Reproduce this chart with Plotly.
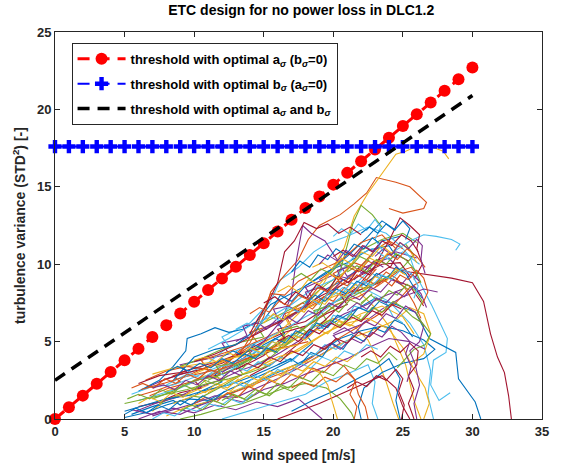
import plotly.graph_objects as go

# ---------------- threshold data ----------------
thr_x = [0, 1, 2, 3, 4, 5, 6, 7, 8, 9, 10, 11, 12, 13, 14, 15, 16, 17, 18, 19, 20,
         21, 22, 23, 24, 25, 26, 27, 28, 29, 30]
red_y = [0, 0.76, 1.51, 2.27, 3.03, 3.79, 4.54, 5.30, 6.06, 6.81, 7.57, 8.33, 9.08,
         9.84, 10.60, 11.36, 12.11, 12.87, 13.63, 14.38, 15.14, 15.90, 16.65, 17.41,
         18.17, 18.93, 19.68, 20.44, 21.20, 21.95, 22.71]
blue_y = [17.6, 17.6, 17.6, 17.6, 17.6, 17.6, 17.6, 17.6, 17.6, 17.6, 17.6, 17.6,
          17.6, 17.6, 17.6, 17.6, 17.6, 17.6, 17.6, 17.6, 17.6, 17.6, 17.6, 17.6,
          17.6, 17.6, 17.6, 17.6, 17.6, 17.6, 17.6]
black_x = [0, 30]
black_y = [2.5, 20.9]

x_ticks = [0, 5, 10, 15, 20, 25, 30, 35]
y_ticks = [0, 5, 10, 15, 20, 25]

# ---------------- simulation runs (wind speed, variance) ----------------
run01 = [(5.5,0.3),(7,0.8),(8.5,1.2),(9,0.9),(10.5,1.8),(12,2.4),(11.5,2.9),(13.5,3.6),(15,4.8),(16.5,5.5),(16,6.3),(18,7.2),(19.5,8.4),(21,9.1),(22.5,10.3),(23.5,11.5),(24.8,11.8)]
run02 = [(6,1.5),(7.5,1.9),(9,2.4),(8.5,2.8),(10,3.3),(11.5,3.1),(13,4.1),(14.5,5.0),(14,5.6),(16,6.2),(17.5,6.9),(19,7.6),(20.5,8.8),(20,9.4),(21.5,10.1),(23,9.6)]
run03 = [(7,0.5),(8,1.3),(9.5,1.6),(11,2.2),(10.5,2.7),(12.5,3.3),(14,3.9),(15.5,4.6),(17,5.8),(16.5,6.6),(18.5,7.3),(20,7.9),(21.5,8.5),(23,7.2),(24,6.0),(25.2,3.5),(25.8,1.2),(26.3,0)]
run04 = [(6.5,2.0),(8,2.6),(9.5,3.0),(9,3.5),(11,3.9),(12.5,4.2),(12,4.9),(14,5.3),(15.5,6.1),(17,6.6),(18.5,7.8),(18,8.5),(20,9.3),(21.5,9.0),(23,10.2),(24.5,10.8),(26,10.4)]
run05 = [(7.5,1.0),(9,1.6),(10.5,1.4),(12,2.1),(13.5,2.9),(13,3.5),(15,4.2),(16.5,4.7),(18,5.6),(19.5,6.4),(19,7.1),(21,7.9),(22.5,8.6),(24,9.2),(25.5,8.3)]
run06 = [(8,2.2),(9.5,2.9),(11,3.6),(12.5,4.7),(12,5.3),(14,6.2),(15.5,7.6),(16.2,9.0),(17.5,9.8),(18.6,10.8),(19.5,11.3),(21,11.8),(22.5,12.4),(23.8,12.0),(24.8,11.2),(25.5,10.5),(26,9.2),(27.1,7.3),(28.2,5.2),(28.1,4.3),(27.2,3.8),(27.0,2.2),(27.6,1.2),(28.4,1.7)]
run07 = [(6,0.8),(7.5,1.1),(9,1.7),(10.5,2.0),(10,2.5),(12,2.9),(13.5,3.4),(15,4.1),(16.5,5.2),(16,5.8),(18,6.3),(19.5,7.2),(21,8.1),(22.5,8.9),(24,9.8),(25.5,9.5),(27,9.3),(28.5,9.1),(30,8.8),(30.8,7.6),(31.3,5.5),(31.8,4.0),(32.3,3.0),(32.6,1.5),(32.8,0)]
run08 = [(5,0.1),(6.5,0.4),(8,0.9),(9.5,1.3),(11,1.2),(12.5,1.9),(14,2.5),(15.5,3.1),(17,3.8),(18.5,4.9),(18,5.5),(20,6.2),(21.5,7.0),(23,7.8),(24.5,7.4),(25.9,6.9),(26.9,5.2),(28.8,4.3),(29,2.6),(30.2,1.1),(30.6,0)]
run09 = [(6.5,2.5),(8,3.1),(9.5,3.4),(11,3.2),(10.5,3.8),(12.5,4.4),(14,4.8),(15.5,5.4),(17,6.0),(16.5,6.8),(18.5,7.5),(20,8.2),(21.5,9.4),(23,10.9),(24,11.5),(25,11.0)]
run10 = [(8,1.8),(9.5,2.2),(11,2.8),(12.5,2.5),(14,3.1),(15.5,3.8),(15,4.4),(17,5.0),(18.5,5.9),(20,6.5),(21.5,6.0),(22.5,5.1),(23.2,3.8),(23.8,2.4),(24.3,1.0),(24.7,0)]
run11 = [(7,0.2),(8.5,0.6),(10,1.0),(11.5,1.5),(13,1.4),(14.5,2.0),(16,2.6),(17.5,3.3),(19,4.1),(20.5,4.9),(20,5.4),(22,6.1),(23.5,7.1),(25,7.9),(26.5,8.4),(27.5,8.2)]
run12 = [(9,3.4),(10.5,3.9),(12,4.5),(13.5,5.0),(15,5.3),(14.5,6.0),(16.5,6.9),(18,7.6),(19.5,8.7),(21,9.6),(22,10.9),(23.5,11.6),(25,12.0),(26,11.4)]
run13 = [(6,1.2),(7.5,1.6),(9,2.0),(10.5,2.6),(12,3.2),(13.5,3.8),(13,4.4),(15,5.1),(16.5,5.8),(18,6.6),(19.5,7.3),(21,8.0),(22.5,8.3),(24,7.6),(25.5,6.2),(26.5,4.8),(27,3.1),(26.8,1.5),(27.2,0)]
run14 = [(7.5,2.4),(9,2.9),(10.5,3.2),(12,3.6),(13.5,4.3),(15,5.0),(16.5,5.6),(18,6.0),(19.5,6.8),(21,7.4),(20.5,8.0),(22.5,8.5),(24,9.1),(25.5,8.6),(26.5,7.3)]
run15 = [(6,1.8),(7.5,2.5),(8.5,3.4),(9.4,4.4),(9.5,5.2),(10.5,5.5),(11.5,5.9),(12.5,5.6),(13.5,5.8),(14.5,6.3),(15.5,7.4),(16.5,7.9),(18,8.6),(19.5,9.5),(21,10.1),(22.5,10.9),(24,11.2),(24.6,10.4)]
run16 = [(9.5,2.8),(11,3.4),(12.5,3.9),(14,4.9),(15,6.6),(15.5,8.2),(16.5,9.3),(17.5,10.3),(18.2,11.6),(19,12.5),(20.5,13.2),(21.5,13.9),(22.4,14.6),(23.1,15.6),(24.5,15.3),(25.5,15.0),(26.7,14.0),(26.5,13.6),(25,13.3),(24,13.6)]
run17 = [(10,2.9),(11.5,3.5),(13,4.0),(14.5,4.6),(16,5.5),(17.5,6.8),(19,8.3),(20,9.8),(20.8,11.1),(21.5,13.1),(22.5,14.6),(24,16.5),(24.5,17.1),(25.2,17.3),(26.2,17.7),(27.3,17.5),(27.9,17.3),(28.3,16.8)]
run18 = [(12,3.0),(13.5,3.9),(15,5.0),(16.3,6.4),(17,8.0),(17.3,10.0),(17.8,12.5),(18.4,12.0),(19.4,11.5),(20.2,10.4),(21,9.2),(22.5,9.9),(24,10.4),(25,9.4)]
run19 = [(14,3.3),(15.5,4.0),(17,5.1),(18.5,6.3),(19.5,8.0),(20.5,9.6),(21,11.2),(21.4,12.6),(22,13.8),(22.8,13.2),(23.5,12.4)]
run20 = [(18,6.0),(19.5,7.1),(21,8.2),(22.5,9.5),(24,10.6),(25.5,11.5),(26.5,11.9),(27.4,11.8),(28.5,11.6),(29.1,11.3),(28.8,10.9)]
run21 = [(14,2.8),(15.5,3.5),(17,4.5),(18.5,5.6),(20,6.9),(21.5,8.3),(23,9.9),(24,11.5),(24.8,13.0),(25.5,12.5),(26.2,11.9),(26,11.0),(26.4,10.0),(25.8,9.0)]
run22 = [(10,0.8),(11.5,1.3),(13,1.8),(14.5,2.4),(16,3.0),(17.5,3.6),(19,4.3),(20.5,5.2),(22,5.7),(23.5,6.0),(25,5.7),(26.5,5.1),(27.3,4.5),(26.5,3.9),(25,3.6),(23.5,3.0),(22.2,2.0),(21.8,0.8),(22.0,0)]
run23 = [(12.5,1.6),(14,2.1),(15.5,2.7),(17,3.2),(18.5,4.0),(20,5.0),(21.5,5.8),(23,6.6),(24.5,7.5),(25.5,8.5),(26.3,8.9)]
run24 = [(15,3.4),(16.5,4.0),(18,4.8),(19.5,5.6),(21,6.2),(22.5,6.5),(24,5.8),(25,4.6),(25.8,3.2),(26.6,2.0),(26.9,1.0),(26.5,0)]
run25 = [(5.5,0.6),(7,0.3),(8.5,0.7),(10,0.4),(11.5,0.9),(13,0.6),(14.5,1.1),(16,0.8),(17.5,1.3),(18.5,0.5),(19.2,0)]
run26 = [(9,0),(10.5,0.3),(12,0.7),(13.5,1.0),(15,1.5),(16.5,2.0),(18,2.3),(19.5,2.0),(20.5,1.3),(21.3,0.4),(21.5,0)]
run27 = [(12,0),(13.5,0.4),(15,0.8),(16.5,1.2),(18,1.6),(19.5,2.4),(21,2.9),(22.5,3.5),(23,2.4),(22.8,1.0),(23.2,0)]
run28 = [(16,0),(17.5,0.5),(19,1.0),(20.5,1.6),(22,2.2),(23.5,2.8),(24.5,2.0),(25,0.8),(25.5,0)]
run29 = [(17,0.5),(18.5,1.2),(20,1.8),(21.5,2.5),(23,3.2),(24,3.9),(24.8,2.6),(24.5,1.2),(24.8,0)]
run30 = [(6.8,1.5),(8.2,2.0),(9.8,2.4),(11.2,2.8),(12.8,3.7),(14.2,4.0),(15.8,4.7),(17.2,5.5),(18.8,6.4),(20.2,7.4),(21.8,7.9),(23.2,8.6),(24.6,9.5),(25.6,9.8),(26.0,9.3)]
run31 = [(8.5,1.0),(10,1.5),(11.5,2.0),(13,2.7),(14.5,3.3),(16,4.0),(17.5,4.4),(19,5.3),(20.5,6.1),(22,6.8),(23.5,7.3),(25,6.6),(25.8,5.5)]
run32 = [(5.8,0.5),(7.2,1.0),(8.8,1.4),(10.2,2.0),(11.8,2.5),(13.2,3.1),(14.8,3.6),(16.2,4.3),(17.8,5.2),(19.2,6.0),(20.8,6.8),(22.2,7.3),(23.8,8.0),(25,8.4)]
run33 = [(7,1.3),(8.5,1.8),(10,2.5),(11.5,2.7),(13,3.3),(14.5,4.1),(16,4.9),(17.5,5.6),(19,6.6),(20.5,7.5),(22,8.2),(23.5,9.0),(25,9.8),(25.8,10.6),(25.2,11.3)]
run34 = [(11,4.5),(12.5,5.2),(14,6.0),(15.5,6.6),(17,7.4),(18.5,8.4),(20,9.0),(21.5,10.5),(22.8,11.0),(24,10.3),(25,10.8),(26.2,10.0)]
run35 = [(10,3.7),(11.5,4.2),(13,4.8),(14.5,5.5),(16,6.2),(17.5,7.0),(19,7.9),(20.5,8.6),(22,9.3),(23.5,10.0),(24.8,10.1),(25.6,9.1)]
run36 = [(8.5,2.5),(10,4.0),(11.5,4.5),(13,4.8),(14.5,5.8),(15.5,7.0),(16.2,8.0),(17,7.6),(18,8.6),(19.5,9.4),(21,10.5),(22.5,11.8),(23.5,12.8),(24.5,12.2)]
run37 = [(12,3.3),(13.5,4.5),(14.5,6.0),(15.2,7.4),(15.5,8.1),(16.5,8.0),(17.5,8.9),(19,9.6),(20.5,10.2),(22,11.4),(23.5,11.9),(24.5,11.0)]
run38 = [(8,0.2),(9.5,0.8),(11,1.1),(12.5,1.7),(14,2.2),(15.5,2.9),(17,3.4),(18.5,3.8),(20,4.6),(21.5,5.3),(23,5.8),(24.5,6.4),(25.5,7.2),(26.5,6.8),(27,5.5),(26.5,4.2),(25.5,3.5)]
run39 = [(6,0),(7.5,0.5),(9,0.3),(10.5,0.9),(12,1.4),(13.5,1.1),(15,1.9),(16.5,2.3),(18,2.9),(19.5,3.4),(21,3.9),(22.5,4.6),(24,5.2),(25.5,5.0),(26.6,4.5)]
run40 = [(5,1.0),(6.5,1.3),(8,1.6),(9.5,1.9),(11,2.3),(12.5,2.6),(14,3.0),(15.5,3.5)]
run41 = [(5.5,1.6),(7,2.1),(8.5,2.2),(10,2.7),(11.5,3.3),(13,3.6),(14.5,4.4),(16,5.2)]
run42 = [(6,2.3),(7.5,2.8),(9,3.0),(10.5,3.4),(12,3.8),(13.5,4.3),(15,4.6)]
run43 = [(5,0.5),(6.5,0.9),(8,1.3),(9.5,1.5),(11,1.9),(12.5,2.2),(14,2.7),(15.5,3.3),(17,3.9)]
run44 = [(6.2,1.9),(7.8,2.3),(9.2,2.7),(10.8,3.0),(12.2,3.3),(13.8,3.9),(15.2,4.4),(16.8,4.7),(18.2,5.0)]
run45 = [(7,2.9),(8.5,3.3),(10,3.5),(11.5,3.7),(13,4.0),(14.5,4.2),(16,4.5),(17.5,4.8)]
run46 = [(13,5.0),(13.8,5.4),(13.5,6.0),(14.6,6.2),(15.2,5.8),(16.0,6.5),(15.7,7.1),(16.8,7.3),(17.5,6.9),(18.3,7.6),(18.0,8.2),(19.1,8.5),(19.8,8.1),(20.6,8.9),(20.3,9.6),(21.4,9.9),(22.1,9.4),(22.9,10.2),(23.6,9.8)]
run47 = [(11,2.5),(11.9,2.9),(11.6,3.4),(12.7,3.6),(13.4,3.2),(14.2,3.9),(13.9,4.5),(15.0,4.7),(15.8,4.3),(16.6,5.1),(16.3,5.7),(17.4,6.0),(18.1,5.6),(18.9,6.4),(18.6,7.0),(19.7,7.3),(20.4,6.9),(21.2,7.7),(22.0,7.4),(22.8,8.1)]
run48 = [(14,4.5),(14.9,4.2),(15.6,5.0),(16.4,4.7),(17.0,5.5),(17.9,5.2),(18.5,6.1),(19.4,5.8),(20.0,6.7),(20.9,6.4),(21.5,7.3),(22.4,7.0),(23.0,7.9),(23.8,7.5),(24.3,6.6),(25.0,6.2)]
run49 = [(15,7.5),(15.8,7.9),(16.5,7.4),(17.3,8.2),(18.1,7.8),(18.8,8.7),(19.6,8.3),(20.3,9.2),(21.1,8.8),(21.8,9.7),(22.6,9.3),(23.3,10.3),(24.1,9.8),(24.6,10.6),(25.4,10.2)]
run50 = [(16,3.5),(16.9,3.9),(17.6,3.5),(18.4,4.3),(19.2,4.0),(19.9,4.9),(20.7,4.5),(21.4,5.4),(22.2,5.0),(22.9,5.9),(23.7,5.6),(24.4,6.4),(25.1,6.1),(25.7,5.3)]
run51 = [(17,7.0),(17.8,7.5),(18.5,7.1),(19.3,7.9),(20.0,7.6),(20.8,8.5),(21.5,8.1),(22.3,9.0),(23.0,8.7),(23.8,9.5),(24.5,9.1),(25.2,8.4),(25.8,7.5),(26.3,6.5)]
run52 = [(18.5,9.8),(19.2,10.1),(19.9,9.7),(20.6,10.4),(21.3,10.0),(22.0,10.8),(22.8,10.5),(23.5,11.2),(24.2,10.7),(24.8,11.4),(25.5,10.9),(26.0,10.1)]
run53 = [(16,6.0),(16.7,6.6),(17.4,6.2),(18.2,7.0),(18.9,6.7),(19.7,7.5),(20.4,7.2),(21.2,8.0),(21.9,7.7),(22.7,8.5),(23.4,8.2),(24.2,9.0),(24.9,8.7),(25.6,9.4),(26.2,8.9)]
run54 = [(19,6.0),(19.8,6.4),(20.5,6.0),(21.3,6.8),(22.0,6.4),(22.8,7.2),(23.5,6.9),(24.3,7.6),(25.0,7.2),(25.7,6.6),(26.4,6.2),(27.0,5.5),(26.6,4.8),(25.8,4.5),(25.2,3.9),(24.6,3.3)]
run55 = [(13,5.8),(13.8,6.2),(14.5,5.9),(15.3,6.7),(16.0,6.4),(16.8,7.2),(17.5,6.9),(18.3,7.8),(19.0,7.4),(19.8,8.3),(20.5,8.0),(21.3,8.8),(22.0,8.5),(22.8,9.4),(23.6,9.0)]
run56 = [(20,10.5),(20.7,10.9),(21.4,10.5),(22.1,11.2),(22.8,10.8),(23.5,11.5),(24.2,11.2),(24.9,11.9),(25.6,11.5),(26.1,10.8)]
run57 = [(18,7.5),(18.7,8.0),(19.4,7.6),(20.2,8.4),(20.9,8.1),(21.7,8.9),(22.4,8.6),(23.1,9.4),(23.9,9.1),(24.5,9.8),(25.2,9.4),(25.8,8.5),(26.4,7.8)]
run58 = [(10,1.0),(10.8,1.4),(11.6,1.1),(12.4,1.7),(13.1,1.4),(13.9,2.1),(14.7,1.8),(15.4,2.5),(16.2,2.2),(17.0,2.9),(17.8,2.6),(18.5,3.3),(19.3,3.0),(20.1,3.7),(20.8,3.4),(21.5,2.6),(21.8,1.6),(22.3,0.8),(22.5,0)]
run59 = [(15,6.2),(15.7,6.8),(16.4,6.4),(17.2,7.2),(17.9,6.9),(18.6,7.7),(19.4,7.4),(20.1,8.2),(20.8,7.9),(21.6,8.7),(22.3,8.4),(23.0,9.2),(23.8,8.9),(24.5,9.7),(25.2,9.3)]
run60 = [(20,5.5),(20.8,5.9),(21.5,5.5),(22.3,6.3),(23.0,6.0),(23.8,6.8),(24.5,6.5),(25.2,7.3),(25.9,6.9),(26.5,6.0),(26.2,5.0),(25.5,4.4),(25.9,3.5),(26.2,2.2),(25.8,1.0),(26.0,0)]
run61 = [(21,9.5),(21.7,9.9),(22.4,9.5),(23.1,10.3),(23.8,10.0),(24.5,10.7),(25.2,10.3),(25.9,9.6),(26.3,8.8)]
run62 = [(9,2.6),(9.8,2.9),(10.6,2.6),(11.4,3.1),(12.2,2.8),(13.0,3.4),(13.8,3.1),(14.6,3.7),(15.4,3.4),(16.2,4.0),(17.0,3.7),(17.8,4.4),(18.6,4.1),(19.4,4.8),(20.2,4.5),(21.0,5.1)]
run63 = [(22,4.0),(22.7,4.4),(23.4,4.0),(24.1,4.7),(24.8,4.3),(25.5,4.9),(26.1,4.4),(26.0,3.5),(25.4,2.8),(25.8,1.9),(25.4,1.0),(25.8,0)]
run64 = [(12,4.0),(12.8,4.4),(13.5,4.1),(14.3,4.8),(15.0,4.5),(15.8,5.2),(16.6,4.9),(17.3,5.7),(18.1,5.4),(18.8,6.2),(19.6,5.9),(20.3,6.7),(21.1,6.4),(21.8,7.2),(22.6,6.9),(23.3,7.6),(24.0,7.3)]
run65 = [(19,9.0),(19.7,9.4),(20.4,9.0),(21.1,9.8),(21.8,9.5),(22.5,10.2),(23.2,9.9),(23.9,10.7),(24.6,10.3),(25.3,11.0),(26.0,10.5),(26.6,9.8)]
run66 = [(10,3.8),(10.8,4.0),(11.6,3.7),(12.4,4.3),(13.2,4.0),(14.0,4.6),(14.8,4.3),(15.6,5.0),(16.4,4.7),(17.2,5.4),(18.0,5.1),(18.8,5.8),(19.6,5.5),(20.4,6.3),(21.2,6.0),(22.0,6.7)]
run67 = [(23,10.5),(23.6,11.0),(24.2,10.6),(24.8,11.4),(25.4,11.0),(26.0,11.6),(26.4,11.2),(26.3,10.3),(26.6,9.4)]
run68 = [(12,1.2),(12.8,1.6),(13.6,1.3),(14.4,1.9),(15.2,1.6),(16.0,2.3),(16.8,2.0),(17.6,2.7),(18.4,2.4),(19.2,3.1),(20.0,2.8),(20.8,3.5),(21.6,3.2),(22.4,3.9),(23.2,3.6),(24.0,4.3),(24.6,3.8)]
run69 = [(20,11.8),(20.6,12.3),(21.2,11.9),(21.8,12.6),(22.4,12.2),(23.0,12.9),(23.4,12.4),(23.0,11.6),(23.6,10.8)]
run70 = [(21,2.0),(21.7,2.4),(22.4,2.1),(23.1,2.8),(23.8,2.5),(24.5,3.2),(25.0,2.6),(24.7,1.8),(25.1,0.9),(24.9,0)]
run71 = [(5,0.3),(5.8,0.7),(6.6,0.4),(7.4,0.9),(8.2,0.6),(9.0,1.2),(9.8,0.9),(10.6,1.5),(11.4,1.2),(12.2,1.8)]
run72 = [(5.5,2.0),(6.3,2.3),(7.1,2.0),(7.9,2.6),(8.7,2.3),(9.5,2.9),(10.3,2.6),(11.1,3.2),(11.9,2.9)]
run73 = [(6,1.0),(6.8,1.4),(7.6,1.1),(8.4,1.7),(9.2,1.4),(10.0,2.0),(10.8,1.7),(11.6,2.3),(12.4,2.0),(13.2,2.6)]
run74 = [(7,2.0),(7.8,2.2),(8.6,1.9),(9.4,2.5),(10.2,2.2),(11.0,2.8),(11.8,2.5),(12.6,3.1),(13.4,2.8)]
run75 = [(5.2,1.3),(6.0,1.6),(6.8,1.3),(7.6,1.9),(8.4,1.6),(9.2,2.2),(10.0,1.9),(10.8,2.5),(11.6,2.2),(12.4,2.8)]
run76 = [(7,0.0),(7.8,0.4),(8.6,0.2),(9.4,0.7),(10.2,0.5),(11.0,1.0),(11.8,0.8),(12.6,1.3),(13.4,1.0),(14.2,1.6)]
run77 = [(14,5.5),(14.6,6.5),(15.3,7.5),(16.0,8.8),(16.5,10.8),(17.2,11.5),(17.9,12.7),(18.8,12.3),(19.6,12.6),(20.4,12.0),(21.2,12.4),(22.0,11.9)]
run78 = [(17,9.5),(17.6,10.2),(18.3,9.8),(18.9,10.6),(19.6,10.3),(20.2,11.0),(20.9,10.6),(21.5,11.3),(22.2,11.0),(22.8,11.7),(23.4,11.3)]
run79 = [(14,6.8),(14.7,7.2),(15.4,6.9),(16.1,7.6),(16.8,7.3),(17.5,8.0),(18.2,7.7),(18.9,8.5),(19.6,8.2),(20.3,8.9),(21.0,8.6),(21.7,9.3),(22.4,9.0),(23.1,9.7)]
run80 = [(16,8.2),(16.8,8.6),(17.5,8.2),(18.2,9.0),(19.0,8.7),(19.7,9.4),(20.4,9.1),(21.2,9.9),(21.9,9.6),(22.6,10.4),(23.3,10.1),(24.0,10.8)]
run81 = [(19,4.5),(19.8,4.9),(20.5,4.5),(21.3,5.2),(22.0,4.9),(22.8,5.6),(23.5,5.3),(24.2,6.0),(24.9,5.6),(25.5,5.0),(25.2,4.2),(25.6,3.4),(25.3,2.4)]
run82 = [(22,7.5),(22.7,8.0),(23.3,7.6),(24.0,8.3),(24.6,8.0),(25.3,8.7),(25.9,8.3),(26.4,7.6),(26.0,6.8),(26.5,6.0)]
run83 = [(12,2.0),(12.8,2.4),(13.6,2.1),(14.4,2.8),(15.2,2.5),(16.0,3.2),(16.8,2.9),(17.6,3.6),(18.4,3.3),(19.2,4.0),(20.0,3.7),(20.8,4.4),(21.6,4.1),(22.4,4.8),(23.2,4.5)]
run84 = [(13,3.2),(13.8,3.6),(14.6,3.3),(15.4,4.0),(16.2,3.7),(17.0,4.4),(17.8,4.1),(18.6,4.8),(19.4,4.5),(20.2,5.2),(21.0,4.9),(21.8,5.6),(22.6,5.3),(23.4,6.0)]
run85 = [(8,3.0),(8.8,3.4),(9.6,3.1),(10.4,3.6),(11.2,3.3),(12.0,3.9),(12.8,3.6),(13.6,4.2),(14.4,3.9),(15.2,4.6),(16.0,4.3)]
run86 = [(17,2.0),(17.8,2.4),(18.6,2.1),(19.4,2.7),(20.2,2.4),(21.0,3.0),(21.6,2.5),(21.2,1.6),(21.7,0.8),(21.5,0)]
run87 = [(11,1.7),(11.8,2.1),(12.6,1.8),(13.4,2.4),(14.2,2.1),(15.0,2.7),(15.8,2.4),(16.6,3.0),(17.4,2.7),(18.2,3.3),(19.0,3.0),(19.6,2.2),(19.9,1.2),(20.3,0)]
run88 = [(21,7.0),(21.7,7.5),(22.4,7.1),(23.1,7.8),(23.8,7.5),(24.5,8.2),(25.1,7.9),(25.8,8.6),(26.3,8.1),(26.7,7.2)]
run89 = [(9,0.5),(9.8,0.9),(10.6,0.6),(11.4,1.2),(12.2,0.9),(13.0,1.5),(13.8,1.2),(14.6,1.8),(15.4,1.5),(16.2,2.1),(17.0,1.8),(17.8,2.4)]
run90 = [(20,8.0),(20.7,8.5),(21.4,8.1),(22.1,8.9),(22.8,8.6),(23.5,9.3),(24.2,9.0),(24.9,9.7),(25.6,9.4),(26.1,8.6),(25.8,7.8)]
run91 = [(16,5.0),(16.8,5.4),(17.5,5.0),(18.3,5.8),(19.0,5.5),(19.8,6.2),(20.5,5.9),(21.3,6.6),(22.0,6.3),(22.8,7.0),(23.5,6.7),(24.2,7.4),(24.9,7.1)]
run92 = [(22,12.0),(22.6,12.4),(23.2,12.0),(23.8,12.6),(24.4,12.2),(25.0,12.8),(25.5,12.3),(25.2,11.6)]
run93 = [(23,8.5),(23.6,9.0),(24.2,8.6),(24.8,9.3),(25.4,9.0),(26.0,9.6),(26.5,9.1),(26.8,8.2),(26.4,7.4)]
run94 = [(13,2.4),(13.8,2.8),(14.6,2.5),(15.4,3.1),(16.2,2.8),(17.0,3.4),(17.8,3.1),(18.6,3.7),(19.4,3.4),(20.2,4.0),(21.0,3.7),(21.8,4.3)]
run95 = [(19,10.0),(19.6,10.6),(20.3,10.2),(20.9,10.9),(21.6,10.5),(22.2,11.2),(22.9,10.8),(23.5,11.5)]
run96 = [(17,9.0),(17.7,9.4),(18.4,9.0),(19.1,9.7),(19.8,9.4),(20.5,10.1),(21.2,9.8),(21.9,10.5),(22.6,10.2)]

runs = [run01, run02, run03, run04, run05, run06, run07, run08, run09, run10,
        run11, run12, run13, run14, run15, run16, run17, run18, run19, run20,
        run21, run22, run23, run24, run25, run26, run27, run28, run29, run30,
        run31, run32, run33, run34, run35, run36, run37, run38, run39, run40,
        run41, run42, run43, run44, run45, run46, run47, run48, run49, run50,
        run51, run52, run53, run54, run55, run56, run57, run58, run59, run60,
        run61, run62, run63, run64, run65, run66, run67, run68, run69, run70,
        run71, run72, run73, run74, run75, run76, run77, run78, run79, run80,
        run81, run82, run83, run84, run85, run86, run87, run88, run89, run90,
        run91, run92, run93, run94, run95, run96]

matlab_colors = ["#0072BD", "#D95319", "#EDB120", "#7E2F8E", "#77AC30", "#4DBEEE", "#A2142F"]

FONT = "Liberation Sans, Arial"

fig = go.Figure()
for i, r in enumerate(runs):
    fig.add_trace(go.Scatter(
        x=[p[0] for p in r], y=[p[1] for p in r], mode="lines",
        line=dict(color=matlab_colors[i % 7], width=1.1),
        showlegend=False, hoverinfo="skip"))

fig.add_trace(go.Scatter(
    x=thr_x, y=red_y, mode="lines+markers", cliponaxis=False, legendgroup="g1",
    name="threshold with optimal a<sub><i>σ</i></sub> (b<sub><i>σ</i></sub>=0)",
    line=dict(color="#FF0000", width=3, dash="12px,8px"),
    marker=dict(symbol="circle", size=12, color="#FF0000")))
fig.add_trace(go.Scatter(
    x=thr_x, y=blue_y, mode="lines+markers", cliponaxis=False, legendgroup="g2",
    name="threshold with optimal b<sub><i>σ</i></sub> (a<sub><i>σ</i></sub>=0)",
    line=dict(color="#0000FF", width=2, dash="12px,8px"),
    marker=dict(symbol="cross", size=11, color="#0000FF")))
fig.add_trace(go.Scatter(
    x=black_x, y=black_y, mode="lines", legendgroup="g3",
    name="threshold with optimal a<sub><i>σ</i></sub> and b<sub><i>σ</i></sub>",
    line=dict(color="#000000", width=3.5, dash="12px,8px")))

axis_common = dict(showline=True, linecolor="#262626", linewidth=1, mirror="ticks",
                   ticks="inside", ticklen=5, tickcolor="#262626", showgrid=False,
                   zeroline=False,
                   tickfont=dict(family=FONT, size=13, color="#262626", weight="bold"))

fig.update_layout(
    width=561, height=472,
    margin=dict(l=55, r=13, t=32, b=52),
    paper_bgcolor="white", plot_bgcolor="white",
    font=dict(family=FONT, color="#262626", weight="bold"),
    title=dict(text="ETC design for no power loss in DLC1.2", x=0.537, xanchor="center",
               y=0.988, yanchor="top",
               font=dict(family=FONT, size=14, color="#000000", weight="bold")),
    xaxis=dict(range=[0, 35], tickvals=x_ticks,
               title=dict(text="wind speed [m/s]", standoff=12,
                          font=dict(family=FONT, size=14, color="#262626", weight="bold")),
               **axis_common),
    yaxis=dict(range=[0, 25], tickvals=y_ticks,
               title=dict(text="turbulence variance (STD<sup>2</sup>) [-]", standoff=8,
                          font=dict(family=FONT, size=14, color="#262626", weight="bold")),
               **axis_common),
    legend=dict(x=0.034, y=0.972, xanchor="left", yanchor="top",
                bgcolor="white", bordercolor="#262626", borderwidth=1,
                font=dict(family=FONT, size=13, color="#000000", weight="bold"),
                itemwidth=48, tracegroupgap=5),
)

fig.write_html("out.html")
